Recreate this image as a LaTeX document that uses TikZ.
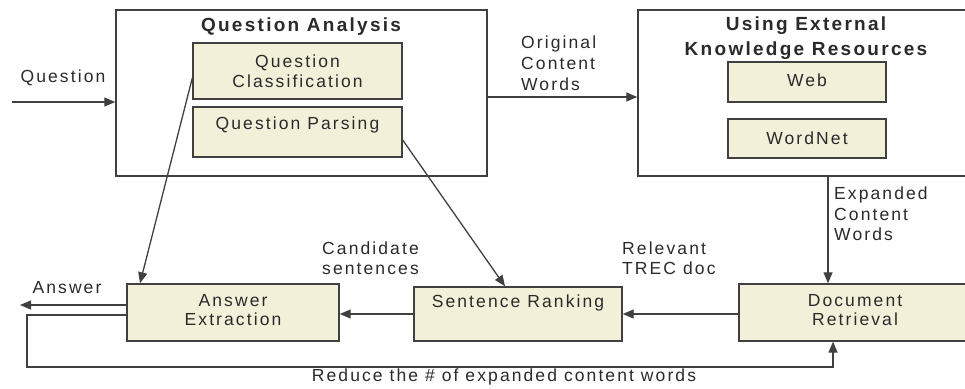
\documentclass[tikz,border=0pt]{standalone}
\usepackage{fontspec}
\setmainfont{Liberation Sans}[LetterSpace=12]
\usetikzlibrary{arrows.meta}
\definecolor{boxfill}{HTML}{F3F0DA}
\definecolor{ln}{HTML}{404040}
\definecolor{tx}{HTML}{2A2A2A}
\tikzset{
  outerbox/.style={draw=ln,line width=1.4pt,fill=white,inner sep=0pt},
  innerbox/.style={draw=ln,line width=1.4pt,fill=boxfill,inner sep=0pt},
  lbl/.style={text=tx,inner sep=0pt,font=\fontsize{17.5}{20}\selectfont},
  ttl/.style={text=tx,inner sep=0pt,align=center,font=\fontsize{19}{25}\selectfont\bfseries},
  arr/.style={draw=ln,line width=1.3pt,-{Triangle[length=11pt,width=9pt]}},
  conn/.style={draw=ln,line width=1.3pt}
}
\begin{document}
\begin{tikzpicture}[x=1pt,y=-1pt]
\useasboundingbox (0,0) rectangle (965,388);
\clip (0,0) rectangle (965,388);
% outer boxes
\node[outerbox,minimum width=371pt,minimum height=166pt] (qa) at (301.5,93) {};
\node[outerbox,minimum width=336pt,minimum height=166pt] (ek) at (806,93) {};
\node[ttl] (qat) at (301,27) {Question Analysis};
\node[ttl] (ekt) at (806,38) {Using External\\Knowledge Resources};
% inner boxes
\node[innerbox,minimum width=209pt,minimum height=56pt] (qc) at (297.5,71) {};
\node[lbl,align=center,font=\fontsize{17.5}{19.5}\selectfont] (qct) at (297.5,71) {Question\\Classification};
\node[innerbox,minimum width=209pt,minimum height=50pt] (qp) at (297.5,132) {};
\node[lbl] (qpt) at (297.5,125) {Question Parsing};
\node[innerbox,minimum width=158pt,minimum height=40pt] (web) at (807,82) {};
\node[lbl] (webt) at (807,80) {Web};
\node[innerbox,minimum width=158pt,minimum height=39pt] (wn) at (807,138.5) {};
\node[lbl] (wnt) at (807,138) {WordNet};
% bottom row
\node[innerbox,minimum width=212pt,minimum height=57pt] (ae) at (233,312.5) {};
\node[lbl,align=center,font=\fontsize{17.5}{19}\selectfont] (aet) at (233,310) {Answer\\Extraction};
\node[innerbox,minimum width=208pt,minimum height=54pt] (sr) at (518,314) {};
\node[lbl] (srt) at (518,303) {Sentence Ranking};
\node[innerbox,minimum width=232pt,minimum height=57pt] (dr) at (855,312.5) {};
\node[lbl,align=center,font=\fontsize{17.5}{19}\selectfont] (drt) at (855,310) {Document\\Retrieval};
% labels
\node[lbl] (qlab) at (63,78) {Question};
\node[lbl,anchor=west,align=left,font=\fontsize{17.5}{21}\selectfont] (ocw) at (521,63) {Original\\Content\\Words};
\node[lbl,anchor=west,align=left,font=\fontsize{17.5}{20.5}\selectfont] (ecw) at (834,214) {Expanded\\Content\\Words};
\node[lbl,anchor=west,align=left,font=\fontsize{17.5}{20.5}\selectfont] (cs) at (322,258) {Candidate\\sentences};
\node[lbl,anchor=west,align=left,font=\fontsize{17.5}{20.5}\selectfont] (rtd) at (622,258) {Relevant\\TREC doc};
\node[lbl] (anslab) at (67,288) {Answer};
\node[lbl] (red) at (504,377) {Reduce the \# of expanded content words};
% helper coordinates
\coordinate (qin) at (12,102);
\coordinate (yoc) at (0,97);
\coordinate (xexp) at (828,0);
\coordinate (ymid) at (0,314);
\coordinate (ans) at (20,305);
\coordinate (yfb) at (0,315);
\coordinate (fbl) at (27,367);
\coordinate (fbr) at (833,367);
\coordinate (yqc) at (0,78);
\coordinate (xae) at (140,0);
\coordinate (yqp) at (0,140);
\coordinate (xsr) at (505,0);
% connectors
\draw[arr] (qin) -- (qin -| qa.west);
\draw[arr] (qa.east |- yoc) -- (ek.west |- yoc);
\draw[arr] (xexp |- ek.south) -- (xexp |- dr.north);
\draw[arr] (dr.west |- ymid) -- (sr.east |- ymid);
\draw[arr] (sr.west |- ymid) -- (ae.east |- ymid);
\draw[arr] (ae.west |- ans) -- (ans);
\draw[arr] (ae.west |- yfb) -- (fbl |- yfb) -- (fbl) -- (fbr) -- (fbr |- dr.south);
\draw[arr] (qc.west |- yqc) -- (xae |- ae.north);
\draw[arr] (qp.east |- yqp) -- (xsr |- sr.north);
\end{tikzpicture}
\end{document}
